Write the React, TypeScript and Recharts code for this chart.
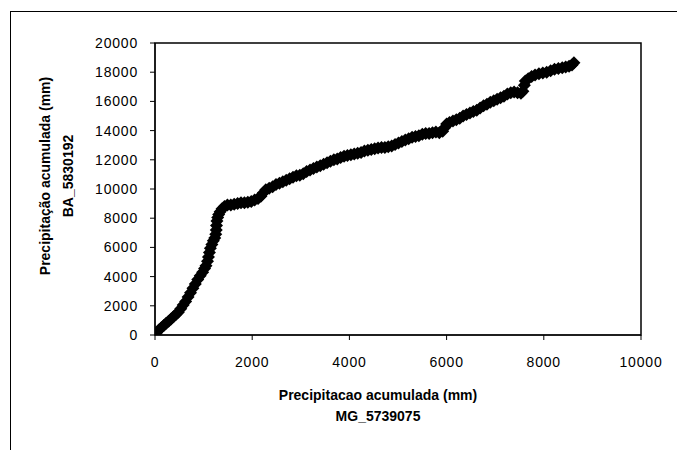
import React from "react";
import { ScatterChart, Scatter, XAxis, YAxis, ReferenceArea, Label } from "recharts";

// precipitação acumulada (mm) - MG_5739075 (eixo x)
const mgAcum = [
  0, 30, 80, 130, 180, 230, 280, 330, 380, 430, 480, 530, 580, 630, 680, 730,
  780, 830, 880, 930, 980, 1020, 1050, 1080, 1100, 1120, 1140, 1170, 1200, 1230,
  1250, 1260, 1265, 1275, 1290, 1310, 1340, 1380, 1430, 1490, 1560, 1630, 1700,
  1770, 1840, 1910, 1980, 2050,
  2120, 2180, 2230, 2280, 2350, 2420, 2490, 2560, 2630, 2700, 2770, 2840, 2910,
  2980, 3050, 3120, 3190, 3260, 3330, 3400, 3470, 3540, 3610, 3680, 3750, 3820,
  3890, 3960, 4030, 4100, 4170, 4240, 4310, 4380, 4450, 4520, 4590, 4660, 4730,
  4800, 4870, 4940, 5010, 5080, 5150, 5220, 5290, 5360, 5430, 5500, 5570, 5640,
  5710, 5780, 5850, 5920,
  5960, 6000, 6060, 6130, 6200, 6270, 6340, 6410, 6480, 6550, 6620, 6690, 6760,
  6830, 6900, 6970, 7040, 7110, 7180, 7250, 7320, 7390, 7460, 7530, 7570, 7600,
  7620, 7680, 7750, 7820, 7900, 7980, 8060, 8140, 8220, 8300, 8380, 8450, 8520,
  8580, 8620,
];

// precipitação acumulada (mm) - BA_5830192 (eixo y)
const baAcum = [
  0, 150, 350, 500, 650, 800, 950, 1100, 1250, 1400, 1550, 1800, 2050, 2300, 2600, 2900,
  3200, 3500, 3800, 4050, 4300, 4550, 4750, 5050, 5350, 5650, 5950, 6200, 6450, 6650,
  6900, 7200, 7500, 7800, 8050, 8250, 8450, 8650, 8800, 8900, 8900, 8950, 9000,
  9050, 9050, 9100, 9150, 9250,
  9350, 9500, 9750, 9950, 10050, 10150, 10300, 10400, 10500, 10600, 10700, 10800, 10900,
  10950, 11050, 11200, 11300, 11400, 11500, 11600, 11700, 11800, 11900, 12000, 12050, 12150,
  12250, 12300, 12350, 12400, 12450, 12500, 12600, 12650, 12700, 12750, 12800, 12850, 12850,
  12900, 12950, 13050, 13150, 13250, 13350, 13450, 13550, 13600, 13650, 13750, 13800, 13800,
  13850, 13900, 13850, 13950,
  14200, 14450, 14550, 14650, 14750, 14850, 15000, 15100, 15200, 15300, 15400, 15550, 15700,
  15800, 15950, 16050, 16150, 16250, 16350, 16500, 16600, 16650, 16600, 16550, 16700, 17100,
  17400, 17550, 17700, 17800, 17900, 17950, 18000, 18100, 18200, 18250, 18300, 18350, 18400,
  18500, 18650,
];

const xTicks = [0, 2000, 4000, 6000, 8000, 10000];
const yTicks = [0, 2000, 4000, 6000, 8000, 10000, 12000, 14000, 16000, 18000, 20000];

const data = mgAcum.map((x, i) => ({ x, y: baAcum[i] }));

const font = "'Liberation Sans', Arial, sans-serif";

const Diamond = (props: any) => {
  const { cx, cy } = props;
  const r = 6.5;
  return (
    <path
      d={`M${cx},${cy - r}L${cx + r},${cy}L${cx},${cy + r}L${cx - r},${cy}Z`}
      fill="#000"
    />
  );
};

const XTitle = () => (
  <g fontFamily={font} fontWeight="bold" fontSize={14} fill="#000">
    <text x={378} y={400} textAnchor="middle">Precipitacao acumulada (mm)</text>
    <text x={378} y={421} textAnchor="middle">MG_5739075</text>
  </g>
);

const YTitle = () => (
  <g fontFamily={font} fontWeight="bold" fontSize={14} fill="#000">
    <text x={50} y={176} textAnchor="middle" transform="rotate(-90 50 176)">
      Precipitação acumulada (mm)
    </text>
    <text x={73} y={176} textAnchor="middle" transform="rotate(-90 73 176)">
      BA_5830192
    </text>
  </g>
);

export default function App() {
  return (
    <div
      style={{
        position: "absolute",
        left: 0,
        top: 0,
        width: 677,
        height: 450,
        overflow: "hidden",
        background: "#fff",
        fontFamily: font,
      }}
    >
      <div
        style={{
          position: "absolute",
          left: 10,
          top: 11,
          width: 700,
          height: 500,
          borderTop: "1.5px solid #000",
          borderLeft: "1.5px solid #000",
        }}
      />
      <ScatterChart
        width={677}
        height={450}
        margin={{ top: 43, right: 36, bottom: 35, left: 95 }}
        style={{ position: "absolute", left: 0, top: 0 }}
      >
        <XAxis
          type="number"
          dataKey="x"
          domain={[0, 10000]}
          ticks={xTicks}
          height={80}
          stroke="#000"
          tickSize={5}
          tickMargin={17}
          tick={{ fill: "#000", fontSize: 14, fontFamily: font, letterSpacing: 0.8 }}
          allowDataOverflow
        >
          <Label content={<XTitle />} />
        </XAxis>
        <YAxis
          type="number"
          dataKey="y"
          domain={[0, 20000]}
          ticks={yTicks}
          width={60}
          stroke="#000"
          tickSize={5}
          tickMargin={12}
          tick={{ fill: "#000", fontSize: 14, fontFamily: font, letterSpacing: 0.8 }}
          allowDataOverflow
        >
          <Label content={<YTitle />} />
        </YAxis>
        <ReferenceArea
          x1={0}
          x2={10000}
          y1={0}
          y2={20000}
          fill="none"
          stroke="#000"
          strokeWidth={1.5}
          fillOpacity={0}
        />
        <Scatter data={data} shape={<Diamond />} isAnimationActive={false} />
      </ScatterChart>
    </div>
  );
}
